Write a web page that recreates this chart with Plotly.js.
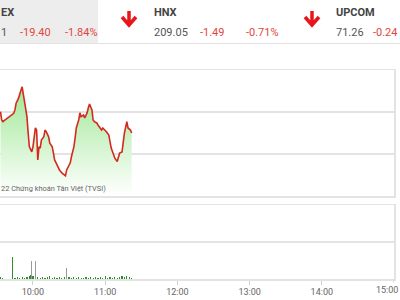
<!DOCTYPE html>
<html>
<head>
<meta charset="utf-8">
<script src="https://cdn.plot.ly/plotly-3.0.1.min.js"></script>
<style>html,body{margin:0;padding:0;background:#fff;}#chart{width:400px;height:300px;}</style>
</head>
<body>
<div id="chart"></div>
<script>
// ---- data ----
var day = "2022-06-01 ";
var priceTimes = ["09:33","09:34","09:35","09:38","09:41","09:44","09:45","09:46","09:48","09:49","09:50","09:51","09:52","09:53","09:55","09:56","09:57","09:59","10:00","10:02","10:03","10:04","10:05","10:06","10:07","10:09","10:10","10:11","10:13","10:14","10:16","10:17","10:18","10:20","10:21","10:22","10:24","10:25","10:27","10:28","10:29","10:31","10:32","10:34","10:35","10:36","10:38","10:39","10:40","10:42","10:43","10:45","10:46","10:47","10:49","10:50","10:51","10:53","10:54","10:56","10:57","10:58","11:00","11:01","11:03","11:04","11:05","11:07","11:08","11:10","11:11","11:12","11:14","11:15","11:16","11:18","11:19","11:21","11:22"];
var priceValues = [1050.1,1048.1,1047.7,1048.3,1048.9,1049.7,1050.5,1052.1,1053.3,1054.5,1055.2,1056.0,1054.0,1052.9,1048.9,1045.0,1041.7,1040.5,1041.7,1046.2,1045.7,1038.6,1041.7,1041.4,1043.3,1044.1,1045.7,1045.3,1044.1,1042.6,1041.7,1040.2,1038.6,1037.4,1036.7,1036.2,1035.5,1035.2,1034.8,1036.2,1036.7,1037.9,1039.4,1041.7,1043.8,1046.2,1048.1,1049.8,1048.9,1049.3,1048.6,1049.8,1051.0,1051.9,1050.5,1048.1,1047.7,1047.4,1046.9,1046.2,1045.7,1046.2,1045.7,1045.3,1044.5,1042.6,1041.4,1039.8,1039.0,1038.2,1039.4,1040.2,1040.5,1042.9,1045.0,1047.7,1046.2,1045.7,1045.0];
var volGreenTimes = ["09:33","09:35","09:43","09:45","09:47","09:49","09:51","09:53","09:55","09:57","09:58","10:00","10:04","10:06","10:08","10:10","10:12","10:14","10:16","10:18","10:20","10:22","10:24","10:26","10:30","10:32","10:34","10:36","10:38","10:40","10:42","10:44","10:46","10:48","10:50","10:52","10:54","10:56","10:58","11:00","11:02","11:04","11:06","11:08","11:10","11:12","11:14","11:16","11:18","11:20","11:22"];
var volGreenValues = [3,2,30,2,3,2,3,2,3,4,6,4,3,2,3,2,3,4,2,3,2,3,2,3,3,2,3,2,3,2,2,3,2,3,2,3,2,3,2,4,2,3,2,3,2,3,4,3,4,3,2];
var volGrayTimes = ["09:59","10:02","10:28"];
var volGrayValues = [25,25,15];
var tickTimes = ["10:00","11:00","12:00","13:00","14:00"];
var tickLabels = ["10:00","11:00","12:00","13:00","14:00"];
var lastTickLabel = "15:00";

function full(a){ return a.map(function(t){ return day + t; }); }

var traces = [
  {x: full(priceTimes), y: priceValues, type:'scatter', mode:'lines',
   line:{color:'#d42a1e', width:1.6}, fill:'tozeroy',
   fillgradient:{type:'vertical', start:1030, stop:1056,
     colorscale:[[0,'rgba(255,255,255,1)'],[1,'rgba(160,232,150,1)']]},
   xaxis:'x', yaxis:'y', hoverinfo:'skip'},
  {x: full(volGreenTimes), y: volGreenValues, type:'bar', width:60000,
   marker:{color:'#2f8f2f', line:{width:0}}, xaxis:'x2', yaxis:'y2'},
  {x: full(volGrayTimes), y: volGrayValues, type:'bar', width:45000,
   marker:{color:'#9a9a9a', line:{width:0}}, xaxis:'x2', yaxis:'y2'}
];

var xr = [day + "09:32:36", day + "15:00"];
function P(px){ return px/400; }
function Q(py){ return 1 - py/300; }

var red = '#e0483e';
var annots = [
  {text:'<b>EX</b>', x:P(-1), y:Q(12), font:{size:11,color:'#444'}},
  {text:'1', x:P(-1), y:Q(32), font:{size:11,color:'#555'}},
  {text:'-19.40', x:P(18), y:Q(32), font:{size:11,color:red}},
  {text:'-1.84%', x:P(63), y:Q(32), font:{size:11,color:red}},
  {text:'<b>HNX</b>', x:P(152), y:Q(12), font:{size:11,color:'#444'}},
  {text:'209.05', x:P(152), y:Q(32), font:{size:11,color:'#555'}},
  {text:'-1.49', x:P(198), y:Q(32), font:{size:11,color:red}},
  {text:'-0.71%', x:P(244), y:Q(32), font:{size:11,color:red}},
  {text:'<b>UPCOM</b>', x:P(334), y:Q(12), font:{size:11,color:'#444'}},
  {text:'71.26', x:P(334), y:Q(32), font:{size:11,color:'#555'}},
  {text:'22 Chứng khoán Tân Việt (TVSI)', x:P(-1), y:Q(188), font:{size:7.4,color:'#666'}}
].map(function(a){ a.xref='paper'; a.yref='paper'; a.xanchor='left'; a.yanchor='middle'; a.showarrow=false; a.align='left'; return a; });
annots.push({text:'-0.24', xref:'paper', x:1, yref:'paper', y:Q(32), xanchor:'right', yanchor:'middle',
  showarrow:false, font:{size:11,color:red}});
annots.push({text:lastTickLabel, xref:'paper', x:1, yref:'paper', y:Q(290), xanchor:'right', yanchor:'middle',
  showarrow:false, font:{size:9,color:'#666'}});

function arrow(cx){
  return {type:'path', xref:'paper', yref:'paper',
    path:'M '+P(cx)+' '+Q(11)+' L '+P(cx)+' '+Q(25)+' M '+P(cx-7)+' '+Q(17)+' L '+P(cx)+' '+Q(25)+' L '+P(cx+7)+' '+Q(17),
    line:{color:'#e8151b', width:3.5}};
}

var shapes = [
  {type:'rect', xref:'paper', yref:'paper', x0:0, x1:P(98), y0:Q(43), y1:1, fillcolor:'#ededed', line:{width:0}, layer:'below'},
  {type:'line', xref:'paper', yref:'paper', x0:0, x1:1, y0:Q(43.5), y1:Q(43.5), line:{color:'#e2e2e2', width:1}},
  arrow(129), arrow(312),
  {type:'line', xref:'x2', yref:'paper', x0:day+"15:00", x1:day+"15:00", y0:Q(279), y1:Q(283), line:{color:'#d0d0d0', width:1}}
];

var layout = {
  width:400, height:300, margin:{l:0,r:0,t:0,b:0},
  paper_bgcolor:'#ffffff', plot_bgcolor:'#ffffff', showlegend:false,
  font:{family:'Roboto, "Open Sans", sans-serif'},
  bargap:0,
  xaxis:{domain:[0,0.985], type:'date', range:xr, anchor:'y', showgrid:false, zeroline:false,
    showticklabels:false, showline:true, mirror:true, linecolor:'#e3e3e3', linewidth:1.5, ticks:''},
  yaxis:{domain:[Q(196),Q(70)], range:[1030,1060], side:'right', tickvals:[1030,1040,1050,1060],
    showticklabels:false, gridcolor:'#e3e3e3', gridwidth:1.5, zeroline:false, showline:true, linecolor:'#e3e3e3', linewidth:1.5, ticks:''},
  xaxis2:{domain:[0,0.985], type:'date', range:xr, anchor:'y2', showgrid:false, zeroline:false,
    showline:true, mirror:true, linecolor:'#e3e3e3', linewidth:1.5,
    tickvals: full(tickTimes), ticktext: tickLabels, ticks:'outside', ticklen:4, tickcolor:'#d0d0d0',
    tickfont:{size:9, color:'#666'}},
  yaxis2:{domain:[Q(279),Q(205)], range:[0,100], side:'right', tickvals:[0,50,100],
    showticklabels:false, gridcolor:'#e3e3e3', gridwidth:1.5, zeroline:false, showline:true, linecolor:'#e3e3e3', linewidth:1.5, ticks:''},
  annotations: annots,
  shapes: shapes
};

Plotly.newPlot('chart', traces, layout, {staticPlot:true, displayModeBar:false});
</script>
</body>
</html>
